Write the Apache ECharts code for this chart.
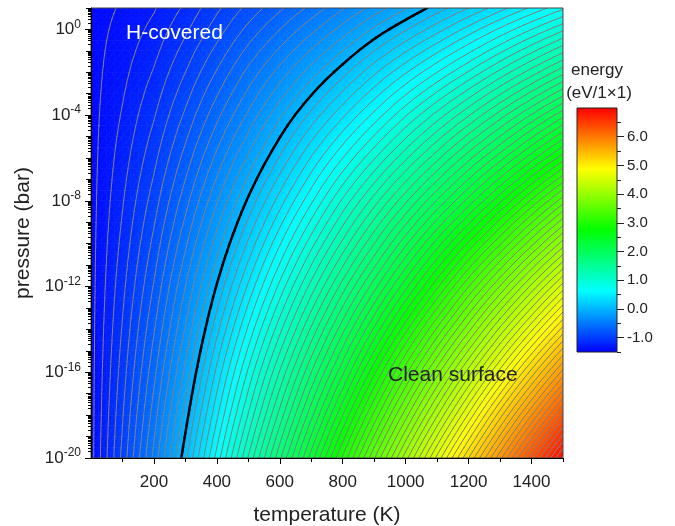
<!DOCTYPE html>
<html><head><meta charset="utf-8">
<script src="https://cdn.jsdelivr.net/npm/echarts@6/dist/echarts.min.js"></script>
<style>html,body{margin:0;padding:0;background:#fff}#c{width:675px;height:526px}</style>
</head><body><div id="c"></div>
<script>
// ---- data ----
const temperatures = [0,100,200,300,400,500,600,700,800,900,1000,1100,1200,1300,1400,1500];
const logPressures = [-20,-18,-16,-14,-12,-10,-8,-6,-4,-2,0,1];
// energy (eV/1x1) along each pressure row, one value per temperature column
const energyAtP1e_20 = [-1.44,-0.97,-0.47, 0.07, 0.64, 1.21, 1.78, 2.35, 2.92, 3.49, 4.06, 4.63, 5.20, 5.77, 6.35, 6.93];
const energyAtP1e_18 = [-1.44,-1.01,-0.55,-0.05, 0.48, 1.01, 1.54, 2.07, 2.60, 3.13, 3.66, 4.19, 4.72, 5.26, 5.80, 6.34];
const energyAtP1e_16 = [-1.44,-1.05,-0.63,-0.17, 0.33, 0.82, 1.31, 1.80, 2.28, 2.78, 3.27, 3.76, 4.25, 4.74, 5.24, 5.74];
const energyAtP1e_14 = [-1.44,-1.09,-0.71,-0.29, 0.17, 0.62, 1.07, 1.52, 1.97, 2.42, 2.87, 3.32, 3.77, 4.23, 4.68, 5.14];
const energyAtP1e_12 = [-1.44,-1.13,-0.79,-0.40, 0.01, 0.42, 0.83, 1.24, 1.65, 2.06, 2.47, 2.88, 3.30, 3.71, 4.13, 4.55];
const energyAtP1e_10 = [-1.44,-1.17,-0.87,-0.52,-0.15, 0.22, 0.59, 0.96, 1.33, 1.70, 2.08, 2.45, 2.82, 3.19, 3.57, 3.95];
const energyAtP1e_8  = [-1.44,-1.21,-0.95,-0.64,-0.31, 0.02, 0.35, 0.68, 1.02, 1.35, 1.68, 2.01, 2.34, 2.68, 3.02, 3.36];
const energyAtP1e_6  = [-1.44,-1.25,-1.03,-0.76,-0.47,-0.18, 0.11, 0.41, 0.70, 0.99, 1.28, 1.57, 1.87, 2.16, 2.46, 2.76];
const energyAtP1e_4  = [-1.44,-1.29,-1.11,-0.88,-0.63,-0.38,-0.12, 0.13, 0.38, 0.63, 0.89, 1.14, 1.39, 1.65, 1.91, 2.17];
const energyAtP1e_2  = [-1.44,-1.33,-1.19,-1.00,-0.79,-0.57,-0.36,-0.15, 0.06, 0.28, 0.49, 0.70, 0.91, 1.13, 1.35, 1.57];
const energyAtP1e0   = [-1.44,-1.37,-1.27,-1.12,-0.95,-0.77,-0.60,-0.43,-0.26,-0.08, 0.09, 0.26, 0.44, 0.62, 0.80, 0.98];
const energyAtP1e1   = [-1.44,-1.39,-1.31,-1.18,-1.02,-0.87,-0.72,-0.57,-0.41,-0.26,-0.11, 0.05, 0.20, 0.36, 0.52, 0.68];

const xMajorTicks = [200,400,600,800,1000,1200,1400];
const xMinorTicks = [100,300,500,700,900,1100,1300,1500];
const yLabelExponents = [-20,-16,-12,-8,-4,0];
const cbarLabels = [-1,0,1,2,3,4,5,6];
const cbarMinor = [-1.5,-0.5,0.5,1.5,2.5,3.5,4.5,5.5,6.5];
const cmapValues = [-1.5,0.625,2.75,4.875,7.0];
const cmapColors = ['#0000ff','#00ffff','#00ff00','#ffff00','#ff0000'];
const contourStep = 0.1;

// ---- build structures for the library ----
const energyRows = [energyAtP1e_20,energyAtP1e_18,energyAtP1e_16,energyAtP1e_14,energyAtP1e_12,
  energyAtP1e_10,energyAtP1e_8,energyAtP1e_6,energyAtP1e_4,energyAtP1e_2,energyAtP1e0,energyAtP1e1];
const cells = [];
for (let j = 0; j < logPressures.length - 1; j++)
  for (let i = 0; i < temperatures.length - 1; i++)
    cells.push([temperatures[i], logPressures[j], i, j]);

const yDecadeTicks = [];
const yMinorTicks = [];
for (let n = -20; n <= 1; n++) {
  yDecadeTicks.push(n);
  if (n < 1) for (let k = 2; k <= 9; k++) yMinorTicks.push(n + Math.log10(k));
}

const vMin = cmapValues[0], vMax = cmapValues[cmapValues.length - 1];
const stops = cmapValues.map((v, k) => ({offset: (v - vMin) / (vMax - vMin), color: cmapColors[k]}));

function colorAt(v) {
  const t = Math.max(vMin, Math.min(vMax, v));
  for (let k = 0; k < cmapValues.length - 1; k++) {
    if (t <= cmapValues[k + 1]) {
      const f = (t - cmapValues[k]) / (cmapValues[k + 1] - cmapValues[k]);
      const a = echarts.color.parse(cmapColors[k]), b = echarts.color.parse(cmapColors[k + 1]);
      return 'rgb(' + [0,1,2].map(c => Math.round(a[c] + f * (b[c] - a[c]))).join(',') + ')';
    }
  }
  return cmapColors[cmapColors.length - 1];
}

// rendering: each grid cell is drawn as a bilinear patch, split into small triangles
const SUB_T = 4, SUB_L = 4;
function cellTriangles(api) {
  const i = api.value(2), j = api.value(3);
  const T0 = temperatures[i], T1 = temperatures[i+1], L0 = logPressures[j], L1 = logPressures[j+1];
  const v00 = energyRows[j][i], v10 = energyRows[j][i+1], v01 = energyRows[j+1][i], v11 = energyRows[j+1][i+1];
  const nodes = [];
  for (let b = 0; b <= SUB_L; b++) {
    const row = [];
    const t = b / SUB_L;
    for (let a = 0; a <= SUB_T; a++) {
      const s = a / SUB_T;
      row.push({p: api.coord([T0 + s*(T1-T0), L0 + t*(L1-L0)]),
        v: (1-s)*(1-t)*v00 + s*(1-t)*v10 + (1-s)*t*v01 + s*t*v11});
    }
    nodes.push(row);
  }
  const tris = [];
  for (let b = 0; b < SUB_L; b++) for (let a = 0; a < SUB_T; a++) {
    const n00 = nodes[b][a], n10 = nodes[b][a+1], n01 = nodes[b+1][a], n11 = nodes[b+1][a+1];
    tris.push([n00, n10, n11], [n00, n11, n01]);
  }
  return tris;
}

function triFill(t) {
  const [A,B,C] = t;
  const d1x = B.p[0]-A.p[0], d1y = B.p[1]-A.p[1], d2x = C.p[0]-A.p[0], d2y = C.p[1]-A.p[1];
  const dv1 = B.v - A.v, dv2 = C.v - A.v;
  const det = d1x*d2y - d1y*d2x;
  let fill;
  if (Math.abs(det) < 1e-9) fill = colorAt(A.v);
  else {
    const a = (dv1*d2y - dv2*d1y)/det, b = (d1x*dv2 - d2x*dv1)/det;
    const n2 = a*a + b*b;
    if (n2 < 1e-14) fill = colorAt(A.v);
    else {
      const s0 = (vMin - A.v)/n2, s1 = (vMax - A.v)/n2;
      fill = new echarts.graphic.LinearGradient(A.p[0]+s0*a, A.p[1]+s0*b, A.p[0]+s1*a, A.p[1]+s1*b, stops, true);
    }
  }
  return {type:'polygon', shape:{points: t.map(q => q.p)}, style:{fill: fill, stroke: fill, lineWidth: 0.7}};
}

function renderField(params, api) {
  return {type:'group', children: cellTriangles(api).map(triFill)};
}

function renderContours(params, api) {
  const children = [];
  for (const t of cellTriangles(api)) {
    const vs = t.map(q => q.v);
    const lo = Math.ceil(Math.min(...vs)/contourStep - 1e-9), hi = Math.floor(Math.max(...vs)/contourStep + 1e-9);
    for (let k = lo; k <= hi; k++) {
      const lev = k / 10;
      const pts = [];
      for (let e = 0; e < 3; e++) {
        const A = t[e], B = t[(e+1)%3];
        if ((A.v >= lev) !== (B.v >= lev)) {
          const f = (lev - A.v)/(B.v - A.v);
          pts.push([A.p[0] + f*(B.p[0]-A.p[0]), A.p[1] + f*(B.p[1]-A.p[1])]);
        }
      }
      if (pts.length === 2) children.push({type:'line', z2: k === 0 ? 10 : 1,
        shape:{x1:pts[0][0], y1:pts[0][1], x2:pts[1][0], y2:pts[1][1]},
        style:{stroke: k === 0 ? '#000' : '#808080', lineWidth: k === 0 ? 2.5 : 1, lineCap: 'round'}});
    }
  }
  return {type:'group', children};
}

function renderColorbar(params, api) {
  const p0 = api.coord([0, vMin]), p1 = api.coord([1, vMax]);
  return {type:'rect', shape:{x:p0[0], y:p1[1], width:p1[0]-p0[0], height:p0[1]-p1[1]},
    style:{fill: new echarts.graphic.LinearGradient(0, p0[1], 0, p1[1], stops, true), stroke:'#222', lineWidth:1}};
}

const FONT = '"Liberation Sans", Arial, sans-serif';
const TXT = '#222';
const chart = echarts.init(document.getElementById('c'), null, {renderer:'canvas'});
chart.setOption({
  animation: false,
  textStyle: {fontFamily: FONT},
  grid: [
    {left: 91, top: 8, width: 472, height: 450, show: true, z: 10, borderColor: '#444', borderWidth: 1,
     backgroundColor: 'transparent', containLabel: false, outerBoundsMode: 'none'},
    {left: 577, top: 108, width: 40, height: 244, show: false, containLabel: false, outerBoundsMode: 'none'}
  ],
  xAxis: [
    {gridIndex:0, type:'value', min:0, max:1500, z: 11, position:'bottom',
     axisLine:{show:true, onZero:false, lineStyle:{color:'#000', width:1}},
     axisTick:{show:true, customValues:xMajorTicks, length:6, lineStyle:{color:'#000'}},
     axisLabel:{customValues:xMajorTicks, formatter: v => String(v), fontSize:17, color:TXT, margin:16, fontFamily:FONT},
     splitLine:{show:false},
     name:'temperature (K)', nameLocation:'middle', nameGap:47, nameTextStyle:{fontSize:21, color:TXT, fontFamily:FONT}},
    {gridIndex:0, type:'value', min:0, max:1500, z: 11, position:'bottom',
     axisLine:{show:false, onZero:false}, axisTick:{show:true, customValues:xMinorTicks, length:4, lineStyle:{color:'#000'}},
     axisLabel:{show:false}, splitLine:{show:false}},
    {gridIndex:1, type:'value', min:0, max:1, show:false, axisLine:{onZero:false}}
  ],
  yAxis: [
    {gridIndex:0, type:'value', min:-20, max:1, z: 11, position:'left',
     axisLine:{show:true, onZero:false, lineStyle:{color:'#000', width:1}},
     axisTick:{show:true, customValues:yLabelExponents, length:6, lineStyle:{color:'#000'}},
     axisLabel:{customValues:yLabelExponents, margin:10, color:TXT,
       formatter: v => '{a|10}{b|' + v + '}',
       rich:{a:{fontSize:17, fontFamily:FONT, color:TXT, lineHeight:22},
             b:{fontSize:12, fontFamily:FONT, color:TXT, verticalAlign:'top', lineHeight:13}}},
     splitLine:{show:false},
     name:'pressure (bar)', nameLocation:'middle', nameGap:55, nameRotate:90,
     nameTextStyle:{fontSize:21, color:TXT, fontFamily:FONT}},
    {gridIndex:0, type:'value', min:-20, max:1, z: 11, position:'left',
     axisLine:{show:false, onZero:false}, axisTick:{show:true, customValues:yDecadeTicks, length:5, lineStyle:{color:'#000'}},
     axisLabel:{show:false}, splitLine:{show:false}},
    {gridIndex:0, type:'value', min:-20, max:1, z: 11, position:'left',
     axisLine:{show:false, onZero:false}, axisTick:{show:true, customValues:yMinorTicks, length:3, lineStyle:{color:'#000'}},
     axisLabel:{show:false}, splitLine:{show:false}},
    {gridIndex:1, type:'value', min:vMin, max:vMax, position:'right', z: 11,
     axisLine:{show:false, onZero:false}, axisTick:{show:true, customValues:cbarLabels, length:7, lineStyle:{color:'#222'}},
     axisLabel:{customValues:cbarLabels, formatter: v => v.toFixed(1), fontSize:15, color:TXT, margin:10, fontFamily:FONT},
     splitLine:{show:false}},
    {gridIndex:1, type:'value', min:vMin, max:vMax, position:'right', z: 11,
     axisLine:{show:false, onZero:false}, axisTick:{show:true, customValues:cbarMinor, length:4, lineStyle:{color:'#222'}},
     axisLabel:{show:false}, splitLine:{show:false}}
  ],
  series: [
    {type:'custom', xAxisIndex:0, yAxisIndex:0, data:cells, renderItem:renderField, clip:true, silent:true, z:2},
    {type:'custom', xAxisIndex:0, yAxisIndex:0, data:cells, renderItem:renderContours, clip:true, silent:true, z:3},
    {type:'custom', xAxisIndex:2, yAxisIndex:3, data:[[0, vMin]], renderItem:renderColorbar, silent:true, z:2}
  ],
  graphic: [
    {type:'text', z:20, style:{x:126, y:33, text:'H-covered', fill:'#fff', font:'21px ' + FONT, verticalAlign:'middle'}},
    {type:'text', z:20, style:{x:388, y:375, text:'Clean surface', fill:TXT, font:'21px ' + FONT, verticalAlign:'middle'}},
    {type:'text', z:20, style:{x:597, y:70, text:'energy', fill:TXT, font:'17px ' + FONT, align:'center', verticalAlign:'middle'}},
    {type:'text', z:20, style:{x:599, y:93, text:'(eV/1\u00d71)', fill:TXT, font:'17px ' + FONT, align:'center', verticalAlign:'middle'}}
  ]
});
</script></body></html>
